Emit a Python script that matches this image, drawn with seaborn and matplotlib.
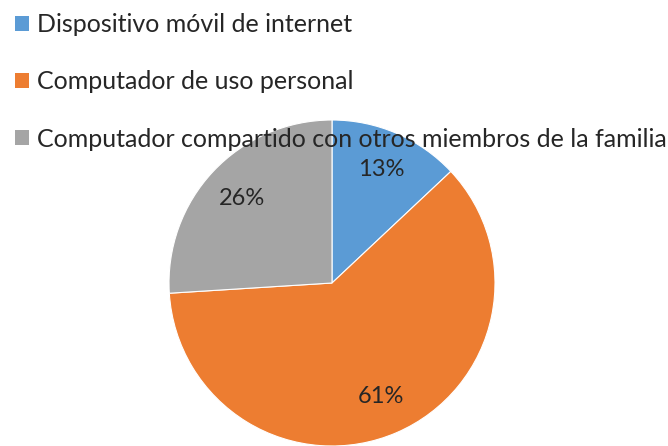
import matplotlib
matplotlib.use("Agg")
import matplotlib.pyplot as plt
from matplotlib.patches import Patch
import seaborn as sns

categories = ["Dispositivo móvil de internet",
              "Computador de uso personal",
              "Computador compartido con otros miembros de la familia"]
values = [13, 61, 26]
colors = ["#5B9BD5", "#ED7D31", "#A5A5A5"]

sns.set_theme(style="white")
plt.rcParams['font.family'] = ['Lato', 'DejaVu Sans']

W, H = 668, 446
fig = plt.figure(figsize=(W / 100, H / 100), dpi=100)
cx, cy, r = 332, 283, 163
ax = fig.add_axes([(cx - r) / W, (H - cy - r) / H, 2 * r / W, 2 * r / H])
wedges, texts, autotexts = ax.pie(values, colors=colors, startangle=90, counterclock=False,
                                  autopct=lambda p: f"{p:.0f}%", pctdistance=0.76,
                                  radius=1, wedgeprops=dict(linewidth=0.8, edgecolor="white"),
                                  textprops=dict(fontsize=17, color="#262626"))
ax.set_xlim(-1, 1)
ax.set_ylim(-1, 1)
ax.set_aspect("equal")
ax.axis("off")

handles = [Patch(facecolor=c, edgecolor="none") for c in colors]
leg = fig.legend(handles, categories, loc="upper left", bbox_to_anchor=(-0.003, 1.01),
                 frameon=False, fontsize=18, labelspacing=1.37, handlelength=0.56,
                 handleheight=0.56, handletextpad=0.32, borderaxespad=0.3)
for t in leg.get_texts():
    t.set_color("#262626")
leg.set_zorder(10)

fig.savefig("out.png", dpi=100)
